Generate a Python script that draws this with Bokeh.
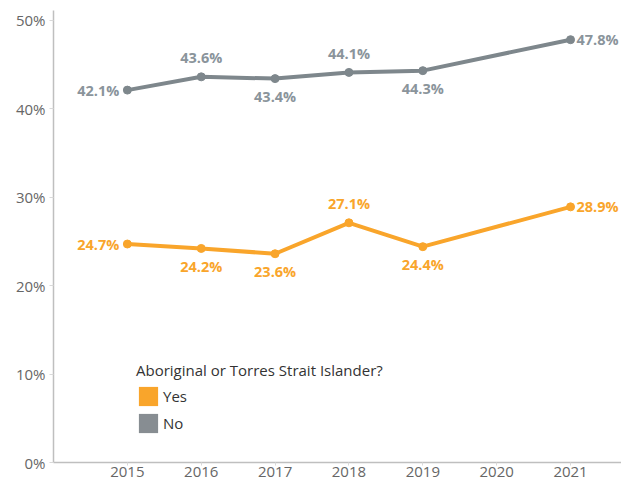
from bokeh.plotting import figure
from bokeh.models import ColumnDataSource, FixedTicker, PrintfTickFormatter, Legend, LegendItem
from bokeh.core.properties import value
from bokeh.embed import file_html
from bokeh.resources import INLINE

years = [2015, 2016, 2017, 2018, 2019, 2021]
no_vals = [42.1, 43.6, 43.4, 44.1, 44.3, 47.8]
yes_vals = [24.7, 24.2, 23.6, 27.1, 24.4, 28.9]
no_label_pos = ["left", "above", "below", "above", "below", "right"]
yes_label_pos = ["left", "below", "below", "above", "below", "right"]
year_ticks = [2015, 2016, 2017, 2018, 2019, 2020, 2021]
pct_ticks = [0, 10, 20, 30, 40, 50]

ORANGE = "#F9A52B"
GREY_LINE = "#7E878C"
GREY_TEXT = "#8A949B"
GREY_LEGEND = "#878D92"
FONT = "Open Sans"

p = figure(width=621, height=481, output_backend="svg", toolbar_location=None,
           x_range=(2014, 2021.69), y_range=(0, 51.1),
           min_border_left=53, min_border_right=0, min_border_top=10, min_border_bottom=19)
p.outline_line_color = None
p.xgrid.visible = False
p.ygrid.visible = False
p.background_fill_color = "white"

def offsets(pos):
    if pos == "left":
        return "right", -8, 0
    if pos == "right":
        return "left", 6, 0
    if pos == "above":
        return "center", 0, -19
    return "center", 0, 18

def add_series(vals, positions, line_color, text_color):
    p.line(years, vals, line_color=line_color, line_width=4)
    p.scatter(years, vals, size=8, fill_color=line_color, line_color=line_color)
    al, xo, yo = zip(*[offsets(s) for s in positions])
    src = ColumnDataSource(dict(x=years, y=vals, t=[f"{v:.1f}%" for v in vals],
                                al=list(al), xo=list(xo), yo=list(yo)))
    p.text(x="x", y="y", text="t", source=src, text_align="al", x_offset="xo", y_offset="yo",
           text_baseline="middle", text_color=text_color, text_font=value(FONT),
           text_font_size="14.5px", text_font_style="bold")

add_series(no_vals, no_label_pos, GREY_LINE, GREY_TEXT)
add_series(yes_vals, yes_label_pos, ORANGE, ORANGE)

# axes
p.xaxis.ticker = FixedTicker(ticks=year_ticks)
p.yaxis.ticker = FixedTicker(ticks=pct_ticks)
p.yaxis.formatter = PrintfTickFormatter(format="%d%%")
for ax in (p.xaxis[0], p.yaxis[0]):
    ax.axis_line_color = "#BFBFBF"
    ax.axis_line_width = 1.5
    ax.major_tick_line_color = "#D9D9D9"
    ax.major_tick_in = 0
    ax.major_tick_out = 4
    ax.minor_tick_line_color = None
    ax.major_label_text_font = FONT
    ax.major_label_text_font_size = "15px"
    ax.major_label_text_color = "#666666"
p.xaxis.major_tick_out = 3
p.xaxis.major_label_standoff = 1
p.yaxis.major_label_standoff = 4

# legend swatches (NaN data: only the legend glyph is drawn)
nan = float("nan")
r_yes = p.quad(left=[nan], right=[nan], top=[nan], bottom=[nan], fill_color=ORANGE, line_color=None)
r_no = p.quad(left=[nan], right=[nan], top=[nan], bottom=[nan], fill_color=GREY_LEGEND, line_color=None)
legend = Legend(items=[LegendItem(label="Yes", renderers=[r_yes], index=0),
                       LegendItem(label="No", renderers=[r_no], index=0)],
                location=(83, 27), title="Aboriginal or Torres Strait Islander?",
                orientation="vertical")
legend.background_fill_alpha = 0
legend.border_line_color = None
legend.padding = 0
legend.margin = 0
legend.spacing = 3
legend.glyph_width = 24
legend.glyph_height = 24
legend.label_height = 24
legend.label_standoff = 3
legend.label_text_font = FONT
legend.label_text_font_size = "15px"
legend.label_text_color = "#333333"
legend.title_text_font = FONT
legend.title_text_font_size = "15px"
legend.title_text_font_style = "normal"
legend.title_text_color = "#333333"
legend.title_standoff = 4
p.add_layout(legend, "center")

open("out.html", "w").write(file_html(p, INLINE))
